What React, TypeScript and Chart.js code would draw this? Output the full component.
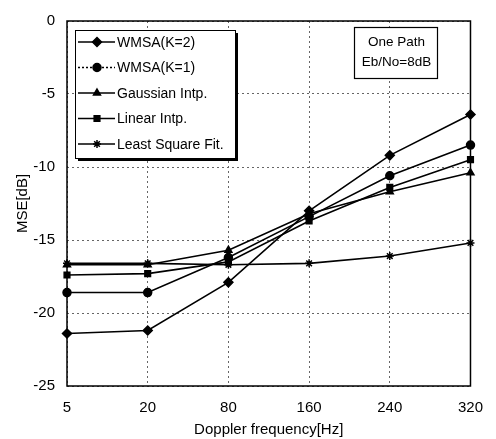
import React, { useEffect, useRef } from "react";
import { Chart, registerables } from "chart.js";
import { drawPoint } from "chart.js/helpers";

Chart.register(...registerables);

const categories = ["5", "20", "80", "160", "240", "320"];
const seriesNames = ["WMSA(K=2)", "WMSA(K=1)", "Gaussian Intp.", "Linear Intp.", "Least Square Fit."];
const wmsaK2 = [-21.4, -21.2, -17.9, -13.0, -9.2, -6.4];
const wmsaK1 = [-18.6, -18.6, -16.2, -13.4, -10.6, -8.5];
const gaussian = [-16.7, -16.7, -15.7, -13.2, -11.7, -10.4];
const linear = [-17.4, -17.3, -16.5, -13.7, -11.4, -9.5];
const leastSquare = [-16.6, -16.6, -16.7, -16.6, -16.1, -15.2];
const markers = ["rectRot", "circle", "triangle", "rect", "star"];
const legendDash = [[], [2, 2], [], [], []];
const yTicks = [0, -5, -10, -15, -20, -25];
const noteLines = ["One Path", "Eb/No=8dB"];

const FONT = "'Liberation Sans', Arial, sans-serif";

const overlayPlugin = {
  id: "overlay",
  afterDatasetsDraw(chart: any) {
    const ctx = chart.ctx;
    const ca = chart.chartArea;
    ctx.save();
    ctx.strokeStyle = "#000";
    ctx.lineWidth = 1.5;
    ctx.setLineDash([]);
    ctx.strokeRect(ca.left, ca.top, ca.right - ca.left, ca.bottom - ca.top);

    const lx = ca.left + 8, ly = ca.top + 9, lw = 160, lh = 128;
    ctx.fillStyle = "#000";
    ctx.fillRect(lx + 3, ly + 3, lw, lh);
    ctx.fillStyle = "#fff";
    ctx.fillRect(lx, ly, lw, lh);
    ctx.lineWidth = 1;
    ctx.strokeStyle = "#000";
    ctx.strokeRect(lx + 0.5, ly + 0.5, lw, lh);
    ctx.font = "14px " + FONT;
    ctx.textBaseline = "middle";
    ctx.textAlign = "left";
    chart.data.datasets.forEach((ds: any, i: number) => {
      const y = ly + 12 + i * 25.5;
      ctx.strokeStyle = "#000";
      ctx.lineWidth = 1.5;
      ctx.setLineDash(legendDash[i]);
      ctx.beginPath();
      ctx.moveTo(lx + 3, y);
      ctx.lineTo(lx + 40, y);
      ctx.stroke();
      ctx.setLineDash([]);
      ctx.fillStyle = "#000";
      drawPoint(ctx, { pointStyle: ds.pointStyle, radius: ds.pointRadius, borderWidth: 1.5, rotation: 0 }, lx + 22, y);
      ctx.fillStyle = "#000";
      ctx.fillText(seriesNames[i], lx + 42, y + 1);
    });

    const nx = 354, ny = 27, nw = 83, nh = 51;
    ctx.fillStyle = "#fff";
    ctx.fillRect(nx, ny, nw, nh);
    ctx.strokeStyle = "#000";
    ctx.lineWidth = 1.2;
    ctx.strokeRect(nx + 0.5, ny + 0.5, nw, nh);
    ctx.fillStyle = "#000";
    ctx.textAlign = "center";
    ctx.font = "13.5px " + FONT;
    noteLines.forEach((t, i) => ctx.fillText(t, nx + nw / 2 + 1, ny + 15 + i * 20));
    ctx.restore();
  },
};

export default function App() {
  const ref = useRef<HTMLCanvasElement>(null);
  useEffect(() => {
    document.body.style.margin = "0";
    const all = [wmsaK2, wmsaK1, gaussian, linear, leastSquare];
    const chart = new Chart(ref.current as HTMLCanvasElement, {
      type: "line",
      data: {
        labels: categories,
        datasets: all.map((d, i) => ({
          label: seriesNames[i],
          data: d,
          borderColor: "#000",
          backgroundColor: "#000",
          borderWidth: 1.6,
          pointStyle: markers[i] as any,
          pointRadius: i === 0 ? 4.5 : 4,
          pointBorderWidth: 1.5,
          pointBackgroundColor: "#000",
          pointBorderColor: "#000",
          tension: 0,
        })),
      },
      options: {
        animation: false,
        responsive: false,
        devicePixelRatio: 1,
        layout: { padding: { top: 13, right: 25, left: 0, bottom: 0 } },
        plugins: { legend: { display: false }, tooltip: { enabled: false } },
        scales: {
          x: {
            type: "category",
            offset: false,
            grid: { color: "#666", lineWidth: 1, drawTicks: false },
            border: { display: false, dash: [2, 3] },
            ticks: { color: "#000", font: { size: 15, family: FONT }, padding: 13, maxRotation: 0 },
            title: { display: true, text: "Doppler frequency[Hz]", color: "#000", font: { size: 15, family: FONT }, padding: { top: 2, bottom: 0 } },
            afterFit: (s: any) => { s.height = 53; },
          },
          y: {
            min: -25,
            max: 0,
            afterBuildTicks: (s: any) => { s.ticks = yTicks.map((v) => ({ value: v })); },
            grid: { color: "#666", lineWidth: 1, drawTicks: false },
            border: { display: false, dash: [2, 3] },
            ticks: { color: "#000", font: { size: 15, family: FONT }, padding: 12 },
            title: { display: true, text: "MSE[dB]", color: "#000", font: { size: 15, family: FONT }, padding: { top: 14, bottom: 0 } },
            afterFit: (s: any) => { s.width = 67; },
          },
        },
      },
      plugins: [overlayPlugin],
    });
    return () => chart.destroy();
  }, []);
  return (
    <div style={{ width: 496, height: 439, background: "#fff" }}>
      <canvas ref={ref} width={496} height={439} />
    </div>
  );
}
